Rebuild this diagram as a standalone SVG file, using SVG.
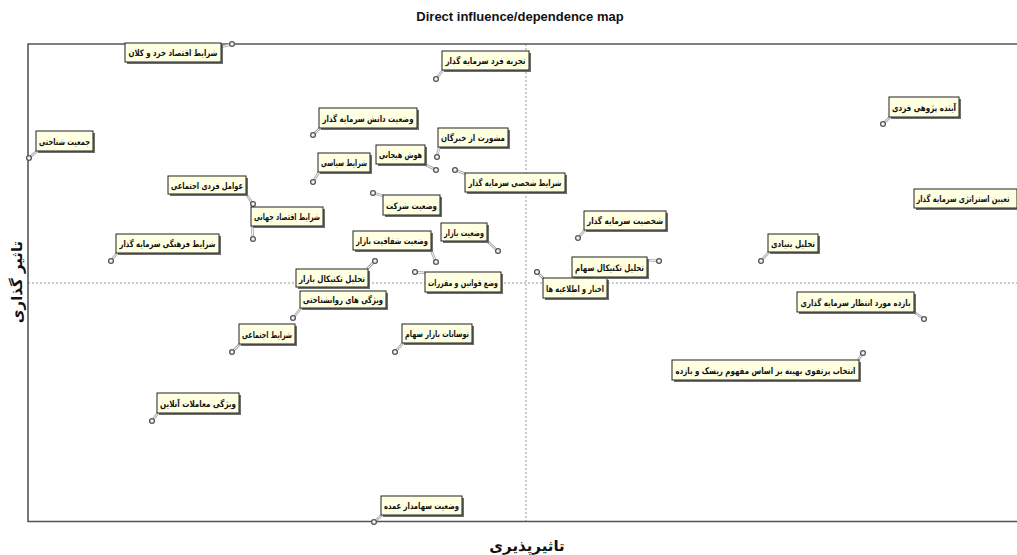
<svg xmlns="http://www.w3.org/2000/svg" width="1017" height="555" viewBox="0 0 1017 555">
<style>
.frame{stroke:#555;stroke-width:1.6;fill:none}
.dash{stroke:#999;stroke-width:1;stroke-dasharray:2,2;fill:none}
.title{font-family:"Liberation Sans",Arial,sans-serif;font-weight:bold;font-size:13px;fill:#111}
.axis{font-family:"DejaVu Sans",sans-serif;font-weight:bold;font-size:15px;fill:#111}
.sh{fill:#6e6e6e}
.box{fill:#ffffe1;stroke:#222;stroke-width:1}
.lbl{font-family:"DejaVu Sans",sans-serif;font-weight:bold;font-size:9px;fill:#111;text-anchor:middle}
.pt{fill:#f4f4f4;stroke:#555;stroke-width:1.3}
.ld{stroke:#a8a8a8;stroke-width:2.6;fill:none}
.ldi{stroke:#fff;stroke-width:0.9;fill:none}
</style>
<rect width="1017" height="555" fill="#fff"/>
<text class="title" x="520" y="21" text-anchor="middle">Direct influence/dependence map</text>
<g id="axes">
<line class="dash" x1="526" y1="44" x2="526" y2="521"/>
<line class="dash" x1="28" y1="283" x2="1017" y2="283"/>
<path class="frame" d="M1017,44 H28 V521.5 H1017"/>
</g>
<text class="axis" transform="translate(22,282) rotate(-90)" text-anchor="middle">تاثیر گذاری</text>
<text class="axis" x="527" y="551" text-anchor="middle">تاثیرپذیری</text>
<g id="connectors">
<path class="ld" d="M232,44L221,47M29,158L37,151M436,79L443,70M313,135L320,128M437,157L439,147M436,170L424,164M313,182L319,172M455,170L466,174M373,193L384,196M253,204L246,194M253,239L252,226M111,261L117,253M498,251L487,241M436,262L431,250M375,261L367,269M415,272L426,273M293,318L301,308M232,352L240,344M395,352L403,343M537,272L544,279M578,238L585,230M659,261L647,260M761,261L769,252M924,319L914,312M863,353L858,360M883,124L890,117M152,421L158,413M374,522L382,515"/>
<path class="ldi" d="M232,44L221,47M29,158L37,151M436,79L443,70M313,135L320,128M437,157L439,147M436,170L424,164M313,182L319,172M455,170L466,174M373,193L384,196M253,204L246,194M253,239L252,226M111,261L117,253M498,251L487,241M436,262L431,250M375,261L367,269M415,272L426,273M293,318L301,308M232,352L240,344M395,352L403,343M537,272L544,279M578,238L585,230M659,261L647,260M761,261L769,252M924,319L914,312M863,353L858,360M883,124L890,117M152,421L158,413M374,522L382,515"/>
</g>
<g id="n1"><rect class="sh" x="127" y="45" width="96" height="19"/><rect class="box" x="125" y="43" width="96" height="19"/><text class="lbl" x="173" y="56" textLength="89" lengthAdjust="spacingAndGlyphs">شرایط اقتصاد خرد و کلان</text><circle class="pt" cx="232" cy="44" r="2.4"/></g>
<g id="n2"><rect class="sh" x="38" y="133" width="57" height="20"/><rect class="box" x="36" y="131" width="57" height="20"/><text class="lbl" x="64.5" y="144.5" textLength="51" lengthAdjust="spacingAndGlyphs">جمعیت شناختی</text><circle class="pt" cx="29" cy="158" r="2.4"/></g>
<g id="n3"><rect class="sh" x="444" y="53" width="87" height="19"/><rect class="box" x="442" y="51" width="87" height="19"/><text class="lbl" x="485.5" y="64" textLength="80" lengthAdjust="spacingAndGlyphs">تجربه فرد سرمایه گذار</text><circle class="pt" cx="436" cy="79" r="2.4"/></g>
<g id="n4"><rect class="sh" x="321" y="110" width="98" height="20"/><rect class="box" x="319" y="108" width="98" height="20"/><text class="lbl" x="368" y="121.5" textLength="91" lengthAdjust="spacingAndGlyphs">وضعیت دانش سرمایه گذار</text><circle class="pt" cx="313" cy="135" r="2.4"/></g>
<g id="n5"><rect class="sh" x="440" y="130" width="70" height="19"/><rect class="box" x="438" y="128" width="70" height="19"/><text class="lbl" x="473" y="141" textLength="64" lengthAdjust="spacingAndGlyphs">مشورت از خبرگان</text><circle class="pt" cx="437" cy="157" r="2.4"/></g>
<g id="n6"><rect class="sh" x="378" y="147" width="49" height="19"/><rect class="box" x="376" y="145" width="49" height="19"/><text class="lbl" x="400.5" y="158" textLength="43" lengthAdjust="spacingAndGlyphs">هوش هیجانی</text><circle class="pt" cx="436" cy="170" r="2.4"/></g>
<g id="n7"><rect class="sh" x="320" y="155" width="52" height="19"/><rect class="box" x="318" y="153" width="52" height="19"/><text class="lbl" x="344" y="166" textLength="46" lengthAdjust="spacingAndGlyphs">شرایط سیاسی</text><circle class="pt" cx="313" cy="182" r="2.4"/></g>
<g id="n8"><rect class="sh" x="467" y="175" width="100" height="19"/><rect class="box" x="465" y="173" width="100" height="19"/><text class="lbl" x="515" y="186" textLength="93" lengthAdjust="spacingAndGlyphs">شرایط شخصی سرمایه گذار</text><circle class="pt" cx="455" cy="170" r="2.4"/></g>
<g id="n9"><rect class="sh" x="385" y="197" width="57" height="20"/><rect class="box" x="383" y="195" width="57" height="20"/><text class="lbl" x="411.5" y="208.5" textLength="51" lengthAdjust="spacingAndGlyphs">وضعیت شرکت</text><circle class="pt" cx="373" cy="193" r="2.4"/></g>
<g id="n10"><rect class="sh" x="170" y="178" width="78" height="18"/><rect class="box" x="168" y="176" width="78" height="18"/><text class="lbl" x="207" y="188.5" textLength="72" lengthAdjust="spacingAndGlyphs">عوامل فردی اجتماعی</text><circle class="pt" cx="253" cy="204" r="2.4"/></g>
<g id="n11"><rect class="sh" x="253" y="209" width="72" height="19"/><rect class="box" x="251" y="207" width="72" height="19"/><text class="lbl" x="287" y="220" textLength="66" lengthAdjust="spacingAndGlyphs">شرایط اقتصاد جهانی</text><circle class="pt" cx="253" cy="239" r="2.4"/></g>
<g id="n12"><rect class="sh" x="118" y="236" width="103" height="19"/><rect class="box" x="116" y="234" width="103" height="19"/><text class="lbl" x="167.5" y="247" textLength="96" lengthAdjust="spacingAndGlyphs">شرایط فرهنگی سرمایه گذار</text><circle class="pt" cx="111" cy="261" r="2.4"/></g>
<g id="n13"><rect class="sh" x="443" y="225" width="46" height="18"/><rect class="box" x="441" y="223" width="46" height="18"/><text class="lbl" x="464" y="235.5" textLength="40" lengthAdjust="spacingAndGlyphs">وضعیت بازار</text><circle class="pt" cx="498" cy="251" r="2.4"/></g>
<g id="n14"><rect class="sh" x="355" y="233" width="78" height="19"/><rect class="box" x="353" y="231" width="78" height="19"/><text class="lbl" x="392" y="244" textLength="72" lengthAdjust="spacingAndGlyphs">وضعیت شفافیت بازار</text><circle class="pt" cx="436" cy="262" r="2.4"/></g>
<g id="n15"><rect class="sh" x="298" y="271" width="72" height="18"/><rect class="box" x="296" y="269" width="72" height="18"/><text class="lbl" x="332" y="281.5" textLength="66" lengthAdjust="spacingAndGlyphs">تحلیل تکنیکال بازار</text><circle class="pt" cx="375" cy="261" r="2.4"/></g>
<g id="n16"><rect class="sh" x="427" y="274" width="76" height="20"/><rect class="box" x="425" y="272" width="76" height="20"/><text class="lbl" x="463" y="285.5" textLength="70" lengthAdjust="spacingAndGlyphs">وضع قوانین و مقررات</text><circle class="pt" cx="415" cy="272" r="2.4"/></g>
<g id="n17"><rect class="sh" x="302" y="293" width="86" height="17"/><rect class="box" x="300" y="291" width="86" height="17"/><text class="lbl" x="343" y="303" textLength="80" lengthAdjust="spacingAndGlyphs">ویژگی های روانشناختی</text><circle class="pt" cx="293" cy="318" r="2.4"/></g>
<g id="n18"><rect class="sh" x="241" y="326" width="56" height="20"/><rect class="box" x="239" y="324" width="56" height="20"/><text class="lbl" x="267" y="337.5" textLength="50" lengthAdjust="spacingAndGlyphs">شرایط اجتماعی</text><circle class="pt" cx="232" cy="352" r="2.4"/></g>
<g id="n19"><rect class="sh" x="404" y="326" width="70" height="19"/><rect class="box" x="402" y="324" width="70" height="19"/><text class="lbl" x="437" y="337" textLength="64" lengthAdjust="spacingAndGlyphs">نوسانات بازار سهام</text><circle class="pt" cx="395" cy="352" r="2.4"/></g>
<g id="n20"><rect class="sh" x="545" y="280" width="64" height="20"/><rect class="box" x="543" y="278" width="64" height="20"/><text class="lbl" x="575" y="291.5" textLength="58" lengthAdjust="spacingAndGlyphs">اخبار و اطلاعیه ها</text><circle class="pt" cx="537" cy="272" r="2.4"/></g>
<g id="n21"><rect class="sh" x="586" y="213" width="82" height="19"/><rect class="box" x="584" y="211" width="82" height="19"/><text class="lbl" x="625" y="224" textLength="76" lengthAdjust="spacingAndGlyphs">شخصیت سرمایه گذار</text><circle class="pt" cx="578" cy="238" r="2.4"/></g>
<g id="n22"><rect class="sh" x="574" y="259" width="75" height="20"/><rect class="box" x="572" y="257" width="75" height="20"/><text class="lbl" x="609.5" y="270.5" textLength="69" lengthAdjust="spacingAndGlyphs">تحلیل تکنیکال سهام</text><circle class="pt" cx="659" cy="261" r="2.4"/></g>
<g id="n23"><rect class="sh" x="770" y="236" width="50" height="18"/><rect class="box" x="768" y="234" width="50" height="18"/><text class="lbl" x="793" y="246.5" textLength="44" lengthAdjust="spacingAndGlyphs">تحلیل بنیادی</text><circle class="pt" cx="761" cy="261" r="2.4"/></g>
<g id="n24"><rect class="sh" x="799" y="294" width="117" height="20"/><rect class="box" x="797" y="292" width="117" height="20"/><text class="lbl" x="855.5" y="305.5" textLength="110" lengthAdjust="spacingAndGlyphs">بازده مورد انتظار سرمایه گذاری</text><circle class="pt" cx="924" cy="319" r="2.4"/></g>
<g id="n25"><rect class="sh" x="674" y="362" width="187" height="20"/><rect class="box" x="672" y="360" width="187" height="20"/><text class="lbl" x="765.5" y="373.5" textLength="180" lengthAdjust="spacingAndGlyphs">انتخاب پرتفوی بهینه بر اساس مفهوم ریسک و بازده</text><circle class="pt" cx="863" cy="353" r="2.4"/></g>
<g id="n26"><rect class="sh" x="916" y="191" width="101" height="19"/><rect class="box" x="914" y="189" width="103" height="19"/><text class="lbl" x="963" y="202" textLength="93" lengthAdjust="spacingAndGlyphs">تعیین استراتژی سرمایه گذار</text></g>
<g id="n27"><rect class="sh" x="891" y="99" width="70" height="20"/><rect class="box" x="889" y="97" width="70" height="20"/><text class="lbl" x="924" y="110.5" textLength="64" lengthAdjust="spacingAndGlyphs">آینده پژوهی فردی</text><circle class="pt" cx="883" cy="124" r="2.4"/></g>
<g id="n28"><rect class="sh" x="159" y="395" width="82" height="20"/><rect class="box" x="157" y="393" width="82" height="20"/><text class="lbl" x="198" y="406.5" textLength="76" lengthAdjust="spacingAndGlyphs">ویژگی معاملات آنلاین</text><circle class="pt" cx="152" cy="421" r="2.4"/></g>
<g id="n29"><rect class="sh" x="383" y="498" width="81" height="19"/><rect class="box" x="381" y="496" width="81" height="19"/><text class="lbl" x="421.5" y="509" textLength="75" lengthAdjust="spacingAndGlyphs">وضعیت سهامدار عمده</text><circle class="pt" cx="374" cy="522" r="2.4"/></g>
</svg>
